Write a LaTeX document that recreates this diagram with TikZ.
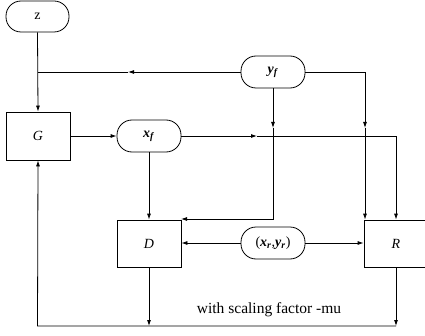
\documentclass[tikz,border=0pt]{standalone}
\usepackage{fontspec}
\setmainfont{Liberation Serif}
\usetikzlibrary{arrows.meta}
\newcommand{\bi}[1]{\textbf{\textit{#1}}}
\begin{document}
\begin{tikzpicture}[x=1pt,y=1pt,
  line width=0.8pt,
  arr/.style={-{Latex[length=6pt,width=4pt]}},
  pill/.style={draw,rounded corners=15pt,minimum width=64pt,minimum height=32pt,inner sep=0pt,font=\fontsize{14}{16}\selectfont},
  blk/.style={draw,minimum width=64pt,minimum height=47pt,inner sep=0pt,font=\fontsize{14}{16}\selectfont\itshape}]
\useasboundingbox (0,0) rectangle (425,335);
\node[pill,minimum width=63pt,minimum height=31pt] (z) at (37.5,318.5) {z};
\node[blk,minimum height=48pt] (G) at (38,199) {G};
\node[pill] (xf) at (149,199) {\bi{x}\textsubscript{\bi{f}}};
\node[pill] (yf) at (273,263) {\bi{y}\textsubscript{\bi{f}}};
\node[blk] (D) at (149,91.5) {D};
\node[pill] (xr) at (273,92) {(\bi{x}\textsubscript{\bi{r}},\bi{y}\textsubscript{\bi{r}})};
\node[blk] (R) at (396,91.5) {R};
\node[font=\fontsize{15.5}{18}\selectfont] (txt) at (269,25) {with scaling factor -mu};
% coordinates
\coordinate (j1) at (37.5,263);
\coordinate (m1) at (128,263);
\coordinate (c1) at (365,263);
\coordinate (m2) at (365,207);
\coordinate (m3) at (273,207);
\coordinate (c3) at (273,116);
\coordinate (dtr) at (181,116);
\coordinate (m4) at (257,199);
\coordinate (c4) at (396,199);
\coordinate (b1) at (149,9);
\coordinate (b2) at (396,9);
\coordinate (b3) at (37.5,9);
% z to G
\draw[arr] (z.south) -- (G.north);
% yf left
\draw[arr] (yf.west) -- (m1);
\draw (m1) -- (j1);
% yf right to R
\draw[arr] (yf.east) -- (c1) -- (m2);
\draw[arr] (m2) -- (R.north west -| c1);
% yf down to D
\draw[arr] (yf.south) -- (m3);
\draw[arr] (m3) -- (c3) -- (dtr);
% G to xf
\draw[arr] (G.east) -- (xf.west);
% xf right to R
\draw[arr] (xf.east) -- (m4);
\draw[arr] (m4) -- (c4) -- (R.north -| c4);
% xf down to D
\draw[arr] (xf.south) -- (D.north);
% xr to D and R
\draw[arr] (xr.west) -- (D.east |- xr.west);
\draw[arr] (xr.east) -- (R.west |- xr.east);
% bottom feedback
\draw[arr] (D.south) -- (b1);
\draw[arr] (R.south) -- (b2);
\draw[arr] (b2) -- (b3) -- (G.south);
\end{tikzpicture}
\end{document}
